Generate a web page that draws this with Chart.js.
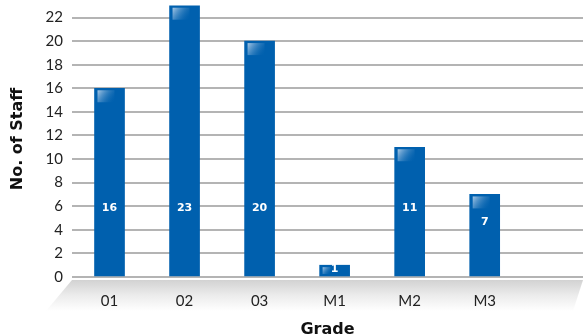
<!DOCTYPE html>
<html>
<head>
<meta charset="utf-8">
<script src="https://cdn.jsdelivr.net/npm/chart.js@4"></script>
<style>
  html, body { margin: 0; padding: 0; background: #fff; overflow: hidden; }
  #wrap { width: 583px; height: 336px; }
</style>
</head>
<body>
<div id="wrap"><canvas id="myChart" width="583" height="336"></canvas></div>
<script>
let grades = ['01', '02', '03', 'M1', 'M2', 'M3']
let staff = [16, 23, 20, 1, 11, 7]
let yTicks = [0, 2, 4, 6, 8, 10, 12, 14, 16, 18, 20, 22]

const barBlue = '#0060ae'
const fontFam = 'Lato, "DejaVu Sans", sans-serif'
const boldFam = '"DejaVu Sans", sans-serif'

// grey floor under the axis
const floor = {
    id: 'floor',
    beforeDraw(chart) {
        const {ctx, chartArea} = chart
        const top = chartArea.bottom + 3
        const bot = chartArea.bottom + 34
        const g = ctx.createLinearGradient(0, top, 0, bot)
        g.addColorStop(0, '#d2d2d2')
        g.addColorStop(0.5, '#ececec')
        g.addColorStop(1, '#ffffff')
        ctx.save()
        ctx.fillStyle = g
        ctx.beginPath()
        ctx.moveTo(chartArea.left, top)
        ctx.lineTo(chartArea.right, top)
        ctx.lineTo(chartArea.right - 10, bot)
        ctx.lineTo(chartArea.left - 26, bot)
        ctx.closePath()
        ctx.fill()
        ctx.restore()
    }
}

// gloss corner + value labels
const barDeco = {
    id: 'barDeco',
    afterDatasetsDraw(chart) {
        const {ctx} = chart
        const yScale = chart.scales.y
        const meta = chart.getDatasetMeta(0)
        meta.data.forEach((bar, i) => {
            const left = bar.x - bar.width / 2
            const h = Math.min(12, bar.base - bar.y - 4)
            const w = h >= 10 ? 17 : 8
            if (h > 2) {
                const g = ctx.createLinearGradient(left + 3, bar.y + 2, left + 3 + w, bar.y + 2 + h)
                g.addColorStop(0, 'rgba(200,220,240,0.85)')
                g.addColorStop(1, 'rgba(0,96,174,0)')
                ctx.save()
                ctx.fillStyle = g
                ctx.fillRect(left + 3, bar.y + 2, w, h)
                ctx.restore()
            }
            const v = staff[i]
            const pos = v > 8 ? 5.8 : v * 0.66
            ctx.save()
            ctx.fillStyle = '#fff'
            ctx.font = 'bold 11px ' + boldFam
            ctx.textAlign = 'center'
            ctx.textBaseline = 'middle'
            ctx.fillText(String(v), bar.x, yScale.getPixelForValue(pos))
            ctx.restore()
        })
    }
}

let config = {
    type: 'bar',
    data: {
        datasets: [{
            data: staff.map((v, i) => ({x: i, y: v})),
            backgroundColor: barBlue,
            borderWidth: 0,
            barThickness: 30
        }]
    },
    options: {
        responsive: false,
        animation: false,
        layout: {padding: {top: 1, right: 0, bottom: 0, left: 0}},
        plugins: {legend: {display: false}, tooltip: {enabled: false}},
        scales: {
            x: {
                type: 'linear',
                offset: false,
                min: -0.5,
                max: 6.31,
                afterBuildTicks: s => { s.ticks = grades.map((g, i) => ({value: i})) },
                afterFit: s => { s.height = 59; s.paddingLeft = 0; s.paddingRight = 0 },
                grid: {display: false, drawTicks: false},
                border: {display: false},
                ticks: {
                    padding: 15,
                    color: '#222',
                    font: {family: fontFam, size: 15},
                    callback: v => grades[v] ?? ''
                },
                title: {
                    display: true,
                    text: 'Grade',
                    color: '#111',
                    font: {family: boldFam, size: 16, weight: 'bold'},
                    padding: {top: 0, bottom: -3}
                }
            },
            y: {
                min: 0,
                max: 23.4,
                afterBuildTicks: s => { s.ticks = yTicks.map(v => ({value: v})) },
                afterFit: s => { s.width = 72; s.paddingTop = 0; s.paddingBottom = 0 },
                grid: {color: '#b4b4b4', lineWidth: 2, drawTicks: false},
                border: {display: false},
                ticks: {
                    padding: 9,
                    color: '#222',
                    font: {family: fontFam, size: 15}
                },
                title: {
                    display: true,
                    text: 'No. of Staff',
                    color: '#111',
                    font: {family: boldFam, size: 16, weight: 'bold'},
                    padding: {top: 8, bottom: 0}
                }
            }
        }
    },
    plugins: [floor, barDeco]
}

let myChart = new Chart(document.getElementById('myChart'), config)
</script>
</body>
</html>
